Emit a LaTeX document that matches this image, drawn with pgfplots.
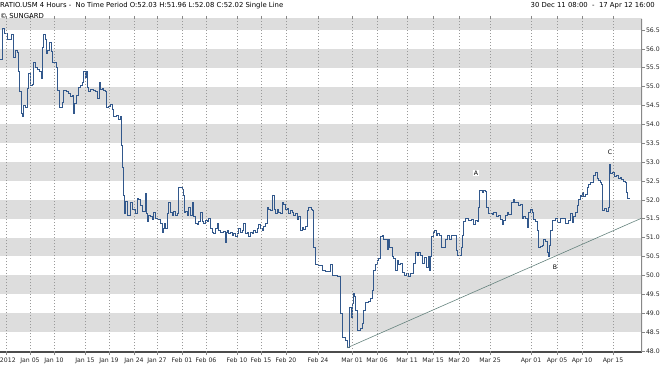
\documentclass[border=0pt]{standalone}
\usepackage{fontspec}
\setmainfont{DejaVu Sans}
\usepackage{pgfplots}
\pgfplotsset{compat=1.18}
\definecolor{band}{RGB}{221,221,221}
\definecolor{series}{RGB}{50,88,140}
\definecolor{trend}{RGB}{100,130,125}
\definecolor{axgray}{RGB}{135,135,135}
\newcommand{\sm}{\fontsize{6.2}{7}\selectfont}
\newcommand{\hd}{\fontsize{6.9}{8}\selectfont}
\begin{document}
\begin{tikzpicture}[x=1bp,y=1bp]
\path[use as bounding box] (0,-16) rectangle (660,352);
\begin{axis}[
  at={(0,0)}, anchor=south west,
  scale only axis, width=642bp, height=333bp,
  xmin=0, xmax=642, ymin=47.97, ymax=56.79,
  axis on top,
  axis line style={draw=none},
  clip=true,
  xtick={6,30,54,85,109,134,157,182,206,237,261,286,318,352,377,407,433,459,490,531,557,582,613},
  xticklabels={{\makebox[0pt][l]{\hspace*{-6bp}2012}},Jan 05,Jan 10,Jan 15,Jan 19,Jan 24,Jan 27,Feb 01,Feb 06,Feb 10,Feb 15,Feb 20,Feb 24,Mar 01,Mar 06,Mar 11,Mar 15,Mar 20,Mar 25,Apr 01,Apr 05,Apr 10,Apr 15},
  ytick={48,48.5,49,49.5,50,50.5,51,51.5,52,52.5,53,53.5,54,54.5,55,55.5,56,56.5},
  yticklabel pos=right,
  yticklabel style={/pgf/number format/fixed, /pgf/number format/fixed zerofill, /pgf/number format/precision=1, /pgf/number format/assume math mode=true, xshift=-2.5bp},
  ticklabel style={font=\sm, text=black!85},
  xticklabel style={yshift=1bp},
  tick align=outside,
  major tick length=3bp,
  tick style={axgray, line width=0.6pt},
  xmajorgrids,
  grid style={dash pattern=on 1bp off 2bp, black!40, line width=0.5bp},
]
\fill[band] (axis cs:0,48.5) rectangle (axis cs:642,49.0);
\fill[band] (axis cs:0,49.5) rectangle (axis cs:642,50.0);
\fill[band] (axis cs:0,50.5) rectangle (axis cs:642,51.0);
\fill[band] (axis cs:0,51.5) rectangle (axis cs:642,52.0);
\fill[band] (axis cs:0,52.5) rectangle (axis cs:642,53.0);
\fill[band] (axis cs:0,53.5) rectangle (axis cs:642,54.0);
\fill[band] (axis cs:0,54.5) rectangle (axis cs:642,55.0);
\fill[band] (axis cs:0,55.5) rectangle (axis cs:642,56.0);
\fill[band] (axis cs:0,56.5) rectangle (axis cs:642,57.0);
\addplot[const plot, series, line width=0.75pt] table {
x y
0 55.73
2 56.55
4 56.40
7 56.25
11 56.37
13 55.78
15 55.95
17 55.90
18 55.39
19 54.86
21 54.30
22 54.20
23 54.50
25 54.45
27 54.96
28 55.36
30 55.04
32 55.06
33 55.63
35 55.50
37 55.45
39 55.39
41 55.23
42 56.05
43 56.37
45 56.25
46 55.89
47 55.95
49 56.16
51 55.93
52 55.65
54 55.63
56 55.50
57 54.91
59 54.46
61 54.44
62 54.59
63 54.91
66 54.86
68 54.83
70 54.73
72 54.78
73 54.30
74 54.56
76 54.78
78 54.99
80 55.02
82 55.12
83 55.39
85 55.25
86 55.39
87 54.99
88 54.86
90 54.93
93 54.90
95 54.86
97 54.70
99 55.10
100 54.93
102 54.96
103 54.91
105 54.86
106 54.44
108 54.47
110 54.52
112 54.39
113 54.20
116 54.25
118 54.12
120 54.20
121 53.45
122 52.87
123 52.13
124 51.65
125 51.95
127 51.60
130 51.92
132 51.75
135 51.65
137 52.05
138 52.00
140 51.85
142 51.70
145 52.18
146 51.65
147 51.42
148 51.60
150 51.55
152 51.47
153 51.68
155 51.50
157 51.47
160 51.39
162 51.15
163 51.25
164 51.39
165 51.25
167 51.65
168 51.92
170 51.68
172 51.60
173 51.70
175 51.60
177 51.65
178 52.34
182 52.28
183 52.13
184 51.68
185 51.70
187 51.60
188 51.80
190 51.60
192 51.92
193 51.55
195 51.39
197 51.34
198 51.42
200 51.68
202 51.42
203 51.39
205 51.45
207 51.42
208 51.52
210 51.25
212 51.15
213 51.12
215 51.25
217 51.39
218 51.20
220 51.15
223 51.17
225 50.88
226 51.15
227 51.20
228 51.12
230 51.15
232 51.07
233 51.10
235 51.02
237 51.10
238 51.25
240 51.15
242 51.20
243 51.39
245 51.10
247 51.15
248 51.02
250 51.15
252 51.12
253 51.20
255 51.15
257 51.25
258 51.34
260 51.25
262 51.20
263 51.30
265 51.39
267 51.81
268 51.75
270 51.72
272 52.13
274 51.75
275 51.65
277 51.75
278 51.68
280 51.65
282 51.92
283 51.88
285 51.75
287 51.78
288 51.65
290 51.72
292 51.68
293 51.60
295 51.65
297 51.47
298 51.55
300 51.20
302 51.26
303 51.22
305 51.30
307 51.73
308 51.79
311 51.76
312 51.72
313 50.75
315 50.28
318 50.26
322 50.14
325 50.10
330 50.28
332 50.01
333 50.00
337 49.96
340 49.00
342 48.37
345 48.29
347 48.10
349 49.16
351 48.90
352 49.27
353 49.53
354 49.45
355 49.08
357 48.55
360 48.60
362 48.74
363 49.08
365 49.28
368 49.30
370 49.40
372 49.61
373 50.14
375 50.30
377 50.41
378 50.45
380 51.02
382 51.07
383 50.95
385 50.94
387 50.68
388 50.94
389 50.73
392 50.49
393 50.45
395 50.14
397 50.41
398 50.28
400 50.33
402 50.09
404 50.01
406 50.05
408 49.96
410 50.05
413 50.33
415 50.60
417 50.52
418 50.60
420 50.52
422 50.33
424 50.47
426 50.22
428 50.49
429 50.14
430 50.49
431 51.02
433 51.15
434 51.20
436 51.05
437 51.12
439 51.07
441 50.75
445 50.94
447 51.07
449 50.94
451 51.07
454 51.05
456 50.67
457 50.54
460 50.54
461 50.75
462 51.07
463 51.42
465 51.52
468 51.46
471 51.48
473 51.34
475 51.46
477 51.44
478 51.81
479 52.26
482 52.20
483 52.26
485 52.22
486 51.79
488 51.65
492 51.62
493 51.68
496 51.55
498 51.60
500 51.47
502 51.34
503 51.46
505 51.60
507 51.68
508 51.62
511 51.92
513 52.00
514 51.92
517 51.92
518 51.85
520 51.88
522 51.52
523 51.56
525 51.50
527 51.28
528 51.68
530 51.75
532 51.68
533 51.47
535 51.42
537 51.20
538 50.73
540 50.76
542 50.80
543 50.94
545 50.90
547 50.60
548 50.49
549 50.80
550 51.20
552 51.45
555 51.50
557 51.40
560 51.50
563 51.52
565 51.39
568 51.45
570 51.65
572 51.40
573 51.55
575 51.68
577 51.86
578 52.00
580 52.13
581 52.08
582 52.20
583 52.10
585 52.15
587 52.32
588 52.40
590 52.47
592 52.45
593 52.66
595 52.74
597 52.58
598 52.52
600 52.45
601 52.40
602 51.72
604 51.78
606 51.70
608 51.80
609 52.95
610 52.70
612 52.74
614 52.62
616 52.66
618 52.58
620 52.60
621 52.53
623 52.50
625 52.45
626 52.20
627 52.05
629 52.02
};
\addplot[trend, line width=0.6pt] coordinates {(347,48.08) (642,51.52)};
\node[font=\sm, fill=white, inner sep=0.8pt] at (axis cs:476,52.71) {A};
\node[font=\sm, fill=white, inner sep=0.8pt] at (axis cs:555,50.22) {B};
\node[font=\sm, fill=white, inner sep=0.8pt] at (axis cs:610,53.27) {C};
\draw[black!70, line width=1.2pt] (rel axis cs:0,0) -- (rel axis cs:1,0);
\draw[axgray, line width=1.8pt] (rel axis cs:1,0) -- (rel axis cs:1,1);
\end{axis}
\node[anchor=west, inner sep=0pt, font=\hd] at (0,346) {RATIO.USM 4 Hours -\ \ No Time Period O:52.03 H:51.96 L:52.08 C:52.02 Single Line};
\node[anchor=west, inner sep=0pt, font=\hd] at (0,336) {\textcopyright\ SUNGARD};
\node[anchor=east, inner sep=0pt, font=\hd] at (655,346) {30 Dec 11 08:00\ \ -\ \ 17 Apr 12 16:00};
\end{tikzpicture}
\end{document}
